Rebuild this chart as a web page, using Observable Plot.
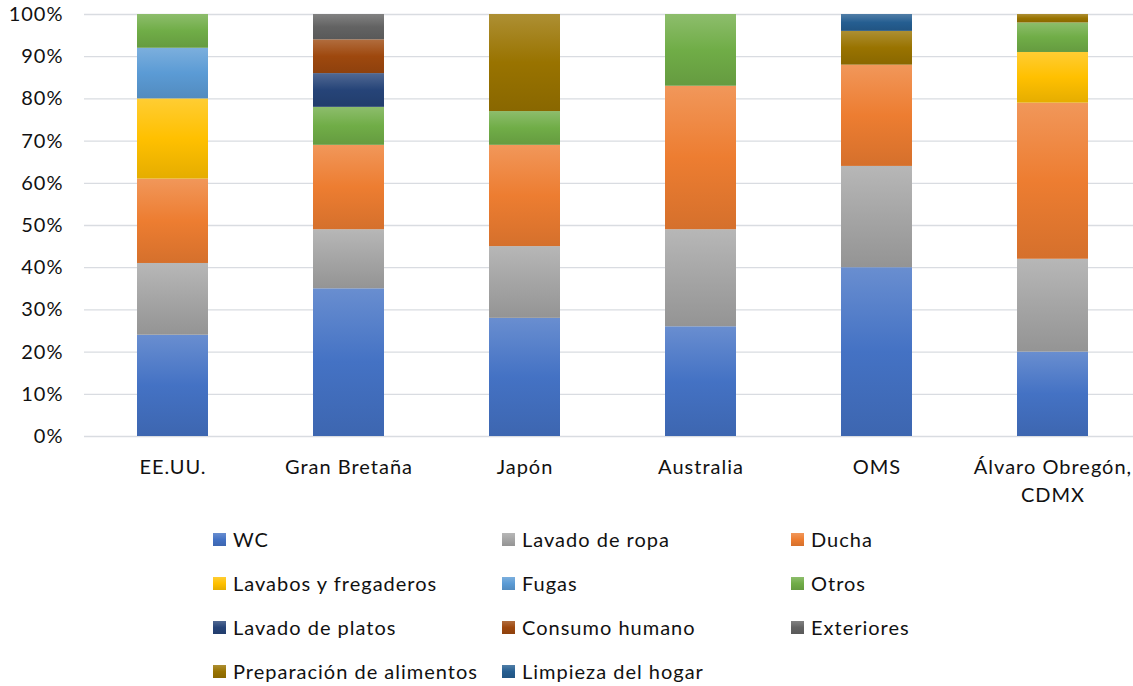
<!DOCTYPE html>
<html>
<head>
<meta charset="utf-8">
<script src="https://cdn.jsdelivr.net/npm/d3@7"></script>
<script src="https://cdn.jsdelivr.net/npm/@observablehq/plot@0.6"></script>
<style>
  html, body { margin: 0; padding: 0; background: #fff; overflow: hidden; }
  #wrap { position: relative; width: 1133px; height: 686px; font-family: Lato, "Open Sans", sans-serif; color: #111; }
  .lg { position: absolute; display: flex; align-items: center; font-size: 20px; letter-spacing: 1px; white-space: nowrap; }
  .sw { width: 13px; height: 13px; margin-right: 7px; }
  svg text { letter-spacing: 1px; }
</style>
</head>
<body>
<div id="wrap"></div>
<script>
const paises = ["EE.UU.", "Gran Bretaña", "Japón", "Australia", "OMS", "Álvaro Obregón, CDMX"];
const etiquetas = ["EE.UU.", "Gran Bretaña", "Japón", "Australia", "OMS", "Álvaro Obregón,\nCDMX"];
const series = ["WC", "Lavado de ropa", "Ducha", "Lavabos y fregaderos", "Fugas", "Otros",
  "Lavado de platos", "Consumo humano", "Exteriores", "Preparación de alimentos", "Limpieza del hogar"];
const colores = ["#4472C4", "#A5A5A5", "#ED7D31", "#FFC000", "#5B9BD5", "#70AD47",
  "#264478", "#9E480E", "#636363", "#997300", "#255E91"];

const wc         = [24, 35, 28, 26, 40, 20];
const ropa       = [17, 14, 17, 23, 24, 22];
const ducha      = [20, 20, 24, 34, 24, 37];
const lavabos    = [19, 0, 0, 0, 0, 12];
const fugas      = [12, 0, 0, 0, 0, 0];
const otros      = [8, 9, 8, 17, 0, 7];
const platos     = [0, 8, 0, 0, 0, 0];
const consumo    = [0, 8, 0, 0, 0, 0];
const exteriores = [0, 6, 0, 0, 0, 0];
const preparacion= [0, 0, 23, 0, 8, 2];
const limpieza   = [0, 0, 0, 0, 4, 0];
const yTicks = [0, 10, 20, 30, 40, 50, 60, 70, 80, 90, 100];

const valores = [wc, ropa, ducha, lavabos, fugas, otros, platos, consumo, exteriores, preparacion, limpieza];
const data = [];
series.forEach((s, i) => paises.forEach((p, j) => {
  if (valores[i][j] > 0) data.push({pais: p, serie: s, valor: valores[i][j]});
}));

const gradIds = series.map((s, i) => "grad" + i);

const svg = Plot.plot({
  width: 1133,
  height: 520,
  marginLeft: 84,
  marginRight: 0,
  marginTop: 14,
  marginBottom: 84,
  style: {fontFamily: "Lato, 'Open Sans', sans-serif", fontSize: "20px", color: "#111", background: "#fff"},
  x: {domain: paises, range: [84.5, 1140.5], paddingInner: 0.597, paddingOuter: 0.2985, label: null},
  y: {domain: [0, 100], label: null},
  color: {domain: series, range: gradIds.map(id => `url(#${id})`)},
  marks: [
    Plot.gridY(yTicks, {stroke: "#D9DCE1", strokeOpacity: 1, strokeWidth: 1.3}),
    Plot.barY(data, {x: "pais", y: "valor", fill: "serie", order: series}),
    Plot.axisY(yTicks, {tickSize: 0, tickPadding: 21, tickFormat: d => d + "%", fontSize: 20, fill: "#111"}),
    Plot.axisX(paises, {tickSize: 0, tickPadding: 18, tickFormat: (d) => etiquetas[paises.indexOf(d)], fontSize: 20, lineHeight: 1.4, fill: "#111"})
  ]
});

const defs = d3.select(svg).insert("defs", ":first-child");
colores.forEach((c, i) => {
  const g = defs.append("linearGradient").attr("id", gradIds[i])
    .attr("x1", 0).attr("y1", 0).attr("x2", 0).attr("y2", 1);
  g.append("stop").attr("offset", "0%").attr("stop-color", d3.interpolateRgb(c, "#fff")(0.2));
  g.append("stop").attr("offset", "50%").attr("stop-color", c);
  g.append("stop").attr("offset", "100%").attr("stop-color", d3.color(c).darker(0.3).formatHex());
});

const wrap = document.getElementById("wrap");
wrap.appendChild(svg);
svg.style.position = "absolute";
svg.style.left = "0px";
svg.style.top = "0px";

series.forEach((s, i) => {
  const col = i % 3, row = Math.floor(i / 3);
  const c = colores[i];
  const item = document.createElement("div");
  item.className = "lg";
  item.style.left = (213 + col * 289) + "px";
  item.style.top = (540 + row * 44 - 15) + "px";
  item.style.height = "28px";
  const sw = document.createElement("div");
  sw.className = "sw";
  sw.style.background = `linear-gradient(to bottom, ${d3.interpolateRgb(c, "#fff")(0.2)}, ${c} 50%, ${d3.color(c).darker(0.3).formatHex()})`;
  const tx = document.createElement("span");
  tx.textContent = s;
  item.appendChild(sw);
  item.appendChild(tx);
  wrap.appendChild(item);
});
</script>
</body>
</html>
